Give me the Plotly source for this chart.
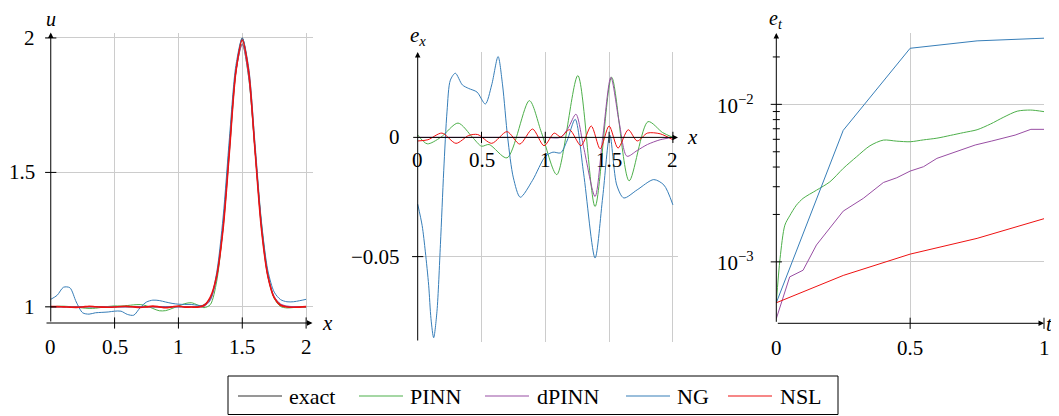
import plotly.graph_objects as go

# ---------------- data ----------------
# left panel: solution u(x) at final time
x_u = [0, 0.05, 0.1, 0.15, 0.2, 0.25, 0.3, 0.35, 0.4, 0.45, 0.5, 0.55, 0.6, 0.65, 0.7,
       0.75, 0.8, 0.85, 0.9, 0.95, 1.0, 1.05, 1.1, 1.15, 1.2, 1.25, 1.3, 1.35, 1.4, 1.45,
       1.5, 1.55, 1.6, 1.65, 1.7, 1.75, 1.8, 1.85, 1.9, 1.95, 2.0]
u_exact = [1.0, 1.0, 1.0, 1.0, 1.0, 1.0, 1.0, 1.0, 1.0, 1.0, 1.0, 1.0, 1.0, 1.0, 1.0,
           1.0, 1.0, 1.0, 1.0, 1.0, 1.0, 1.0, 1.0, 1.001, 1.008, 1.034, 1.114, 1.294, 1.581, 1.873,
           2.0, 1.873, 1.581, 1.294, 1.114, 1.034, 1.008, 1.001, 1.0, 1.0, 1.0]
u_pinn = [0.999, 1.002, 1.0025, 1.001, 0.999, 0.996, 0.9942, 0.995, 0.9982, 1.0015, 1.0035, 1.003,
          1.005, 1.0075, 1.0086, 1.004, 0.994, 0.9855, 0.986, 0.994, 1.003, 1.012, 1.0155, 1.007,
          0.997, 1.0085, 1.096, 1.304, 1.609, 1.878, 1.978, 1.853, 1.583, 1.312, 1.124, 1.032,
          1.0014, 0.996, 0.9975, 0.999, 1.0]
u_dpinn = [1.0, 1.0, 1.0, 1.0, 1.0, 1.0, 1.0, 1.0, 1.0, 1.0, 1.0, 1.0, 1.0, 1.0, 1.0,
           1.0, 1.0, 1.0, 1.0, 1.0, 1.0, 1.0, 1.0, 0.999, 1.002, 1.0245, 1.112, 1.309, 1.605, 1.873,
           1.977, 1.855, 1.581, 1.302, 1.1205, 1.0385, 1.011, 1.003, 1.001, 1.0005, 1.0]
u_ng = [1.028, 1.043, 1.073, 1.071, 1.018, 0.978, 0.973, 0.978, 0.9795, 0.981, 0.984, 0.984,
        0.972, 0.969, 0.997, 1.018, 1.025, 1.0235, 1.018, 1.013, 1.01, 1.009, 1.009, 1.006,
        1.005, 1.028, 1.129, 1.334, 1.631, 1.898, 1.999, 1.89, 1.606, 1.318, 1.136, 1.055,
        1.027, 1.019, 1.019, 1.023, 1.028]
u_nsl = [1.0015, 1.001, 1.0, 0.999, 0.9982, 0.9995, 1.0025, 1.0005, 0.9992, 0.9988, 0.9995,
         1.0015, 1.002, 1.0, 0.9976, 1.0, 1.0028, 1.0, 0.9965, 1.0, 1.0035, 0.999, 0.9995,
         0.999, 1.005, 1.036, 1.116, 1.292, 1.582, 1.875, 1.992, 1.875, 1.582, 1.291, 1.115,
         1.034, 1.006, 0.9995, 0.9985, 0.999, 1.001]

# middle panel: pointwise error e_x
ex_pinn_x = [0, 0.075, 0.18, 0.316, 0.43, 0.5, 0.56, 0.7, 0.875, 0.97, 1.09, 1.255, 1.39,
             1.52, 1.657, 1.805, 1.92, 2.0]
ex_pinn = [0.001, -0.0027, 0.0, 0.006, 0.0, -0.0037, -0.003, -0.0086, 0.0154, 0.002, -0.0156,
           0.0259, -0.029, 0.0252, -0.0182, 0.0066, 0.002, 0.0]
ex_dpinn_x = [0, 0.5, 1.0, 1.12, 1.18, 1.24, 1.3, 1.39, 1.45, 1.514, 1.58, 1.64, 1.72, 1.8,
              1.9, 2.0]
ex_dpinn = [0.0, 0.0, 0.0, 0.0, 0.004, 0.0097, -0.004, -0.0248, 0.0, 0.0252, 0.006, -0.0079,
            -0.0055, -0.003, -0.001, 0.0]
ex_ng_x = [0, 0.035, 0.06, 0.086, 0.104, 0.125, 0.151, 0.178, 0.204, 0.23, 0.256, 0.295, 0.35,
           0.4, 0.465, 0.53, 0.58, 0.63, 0.665, 0.705, 0.75, 0.804, 0.9, 1.0, 1.06, 1.12,
           1.17, 1.234, 1.3, 1.39, 1.45, 1.506, 1.56, 1.615, 1.72, 1.85, 1.93, 2.0]
ex_ng = [-0.028, -0.037, -0.048, -0.062, -0.076, -0.084, -0.073, -0.045, -0.014, 0.011, 0.024,
         0.0269, 0.022, 0.0205, 0.019, 0.014, 0.022, 0.0339, 0.022, 0.0, -0.017, -0.0251,
         -0.018, -0.008, -0.0062, -0.0065, -0.0015, 0.0076, -0.015, -0.0506, -0.025, 0.001,
         -0.02, -0.0254, -0.022, -0.0177, -0.02, -0.0283]
ex_nsl_x = [0, 0.08, 0.19, 0.3, 0.4, 0.47, 0.58, 0.7, 0.8, 0.9, 0.99, 1.07, 1.12, 1.19, 1.28,
            1.36, 1.43, 1.5, 1.57, 1.65, 1.72, 1.8, 1.9, 2.0]
ex_nsl = [-0.0015, -0.001, 0.0018, -0.0025, 0.0008, 0.0012, -0.0025, 0.0024, -0.0028, 0.0035,
          -0.0035, 0.0018, 0.0002, 0.0032, -0.0035, 0.0048, -0.0048, 0.0048, -0.0045, 0.0032,
          -0.0015, 0.0018, 0.0015, -0.001]

# right panel: error over time e_t
t_pinn = [0, 0.014, 0.032, 0.05, 0.075, 0.1, 0.15, 0.2, 0.25, 0.3, 0.35, 0.4, 0.45, 0.5,
          0.55, 0.6, 0.65, 0.7, 0.75, 0.8, 0.85, 0.9, 0.95, 1.0]
et_pinn = [5.5e-4, 1.05e-3, 1.71e-3, 1.96e-3, 2.29e-3, 2.53e-3, 2.85e-3, 3.22e-3, 3.92e-3,
           4.65e-3, 5.46e-3, 5.93e-3, 5.84e-3, 5.79e-3, 5.95e-3, 6.1e-3, 6.35e-3, 6.62e-3,
           6.9e-3, 7.5e-3, 8.3e-3, 9.05e-3, 9.2e-3, 8.99e-3]
t_dpinn = [0, 0.05, 0.1, 0.15, 0.25, 0.325, 0.4, 0.45, 0.5, 0.55, 0.6, 0.668, 0.743, 0.805,
           0.892, 0.951, 1.0]
et_dpinn = [4.36e-4, 8.03e-4, 8.85e-4, 1.28e-3, 2.10e-3, 2.53e-3, 3.19e-3, 3.42e-3, 3.77e-3,
            4.02e-3, 4.54e-3, 5.0e-3, 5.52e-3, 5.85e-3, 6.38e-3, 6.94e-3, 6.94e-3]
t_ng = [0, 0.25, 0.5, 0.75, 1.0]
et_ng = [5.5e-4, 6.84e-3, 2.27e-2, 2.53e-2, 2.63e-2]
t_nsl = [0, 0.25, 0.5, 0.75, 1.0]
et_nsl = [5.5e-4, 8.2e-4, 1.12e-3, 1.41e-3, 1.88e-3]

# tick labels
u_xticks = [0, 0.5, 1, 1.5, 2]
u_xtick_text = ["0", "0.5", "1", "1.5", "2"]
u_yticks = [1, 1.5, 2]
u_ytick_text = ["1", "1.5", "2"]
ex_yticks = [0, -0.05]
ex_ytick_text = ["0", "\u22120.05"]
et_xticks = [0, 0.5, 1]
et_xtick_text = ["0", "0.5", "1"]
et_yticks = [1e-3, 1e-2]
et_ytick_text = ["10<sup>\u22123</sup>", "10<sup>\u22122</sup>"]
et_yminor = [2e-3, 3e-3, 4e-3, 5e-3, 6e-3, 7e-3, 8e-3, 9e-3, 2e-2]

series_names = ["exact", "PINN", "dPINN", "NG", "NSL"]
colors = {"exact": "#303030", "PINN": "#4daf4a", "dPINN": "#984ea3",
          "NG": "#377eb8", "NSL": "#ee1111"}
FONT = "Liberation Serif, DejaVu Serif, Times New Roman, serif"
FS = 21

# ---------------- page geometry (the page body has an 8px margin) ----------------
OFF = 8
W, H = 1059 - OFF, 416 - OFF


def PX(p):
    return (p - OFF) / W


def PY(p):
    return 1 - (p - OFF) / H


XL = [-0.045, 2.05]; YL = [0.94, 2.02]
XM = [-0.047, 2.04]; YM = [-0.0858, 0.0358]
XR = [0, 1.0]; YR_LOG = [-3.39, -1.547]

fig = go.Figure()


def add_line(x, y, name, xa, ya, shape="spline", width=1.0):
    fig.add_trace(go.Scatter(x=x, y=y, mode="lines", name=name, showlegend=False,
                             hoverinfo="skip",
                             line=dict(color=colors[name], width=width, shape=shape,
                                       smoothing=0.8),
                             xaxis=xa, yaxis=ya))


# left panel
add_line(x_u, u_exact, "exact", "x", "y")
add_line(x_u, u_pinn, "PINN", "x", "y")
add_line(x_u, u_dpinn, "dPINN", "x", "y")
add_line(x_u, u_ng, "NG", "x", "y")
add_line(x_u, u_nsl, "NSL", "x", "y", width=1.6)
# middle panel
add_line(ex_pinn_x, ex_pinn, "PINN", "x2", "y2")
add_line(ex_dpinn_x, ex_dpinn, "dPINN", "x2", "y2")
add_line(ex_ng_x, ex_ng, "NG", "x2", "y2")
add_line(ex_nsl_x, ex_nsl, "NSL", "x2", "y2")
# right panel
add_line(t_pinn, et_pinn, "PINN", "x3", "y3", shape="spline")
add_line(t_dpinn, et_dpinn, "dPINN", "x3", "y3", shape="linear")
add_line(t_ng, et_ng, "NG", "x3", "y3", shape="linear")
add_line(t_nsl, et_nsl, "NSL", "x3", "y3", shape="linear")


def tick_marks(x, y, xa, ya, symbol, size):
    fig.add_trace(go.Scatter(x=x, y=y, mode="markers", showlegend=False, hoverinfo="skip",
                             cliponaxis=False, xaxis=xa, yaxis=ya,
                             marker=dict(symbol=symbol, size=size, color="black",
                                         line=dict(color="black", width=1))))


tick_marks([0] * len(u_yticks), u_yticks, "x", "y", "line-ew", 8)
tick_marks(u_xticks[1:], [YL[0]] * 4, "x", "y", "line-ns", 8)
tick_marks([0], [-0.05], "x2", "y2", "line-ew", 8)
tick_marks([0.5, 1, 1.5, 2], [0] * 4, "x2", "y2", "line-ns", 8)
tick_marks([0, 0], et_yticks, "x3", "y3", "line-ew", 8)
tick_marks([0] * len(et_yminor), et_yminor, "x3", "y3", "line-ew", 5)
tick_marks([0.5, 1], [10 ** YR_LOG[0]] * 2, "x3", "y3", "line-ns", 8)

ann = []
shapes = []


def arrow(xh, yh, xt, yt, xa, ya):
    ann.append(dict(x=xh, y=yh, ax=xt, ay=yt, xref=xa, yref=ya, axref=xa, ayref=ya,
                    text="", showarrow=True, arrowhead=2, arrowsize=1.1, arrowwidth=1,
                    arrowcolor="black"))


arrow(XL[1], YL[0], XL[0], YL[0], "x", "y")
arrow(0, YL[1], 0, YL[0], "x", "y")
arrow(XM[1], 0, XM[0], 0, "x2", "y2")
arrow(0, YM[1], 0, YM[0], "x2", "y2")
arrow(XR[1], YR_LOG[0], XR[0], YR_LOG[0], "x3", "y3")
arrow(0, YR_LOG[1], 0, YR_LOG[0], "x3", "y3")


def label(text, x, y, xref, yref, xanchor="center", yanchor="middle", xshift=0, yshift=0,
          size=FS):
    ann.append(dict(text=text, x=x, y=y, xref=xref, yref=yref, showarrow=False,
                    xanchor=xanchor, yanchor=yanchor, xshift=xshift, yshift=yshift,
                    font=dict(family=FONT, size=size, color="black")))


for v, t in zip(u_xticks, u_xtick_text):
    label(t, v, YL[0], "x", "y", yshift=-24)
for v, t in zip(u_yticks, u_ytick_text):
    label(t, 0, v, "x", "y", xanchor="right", xshift=-14)
for v, t in zip(u_xticks, u_xtick_text):
    label(t, v, 0, "x2", "y2", yshift=-23)
for v, t in zip(ex_yticks, ex_ytick_text):
    label(t, 0, v, "x2", "y2", xanchor="right", xshift=-16)
for v, t in zip(et_xticks, et_xtick_text):
    label(t, v, YR_LOG[0], "x3", "y3", yshift=-25)
for v, t in zip(et_yticks, et_ytick_text):
    label(t, 0, {1e-3: -3, 1e-2: -2}[v], "x3", "y3", xanchor="right", xshift=-20)

label("<i>u</i>", 0, PY(19), "x", "paper", size=20)
label("<i>x</i>", XL[1], YL[0], "x", "y", xanchor="left", xshift=7)
label("<i>e</i><sub><i>x</i></sub>", 0, PY(36), "x2", "paper")
label("<i>x</i>", XM[1], 0, "x2", "y2", xanchor="left", xshift=7)
label("<i>e</i><sub><i>t</i></sub>", 0, PY(19), "x3", "paper", size=20)
label("<i>t</i>", PX(1044), PY(324), "paper", "paper", xanchor="left")

# ---------------- legend (framed row of samples) ----------------
shapes.append(dict(type="rect", xref="paper", yref="paper", x0=PX(228), x1=PX(838),
                   y0=PY(414.5), y1=PY(376), line=dict(color="black", width=1),
                   fillcolor="white", layer="above"))
leg_line_x = [238, 359, 485, 626, 728]
leg_text_x = [287, 408, 535, 675, 778]
leg_y = PY(396)
for name, lx, tx in zip(series_names, leg_line_x, leg_text_x):
    shapes.append(dict(type="line", xref="paper", yref="paper", x0=PX(lx), x1=PX(lx + 44),
                       y0=leg_y, y1=leg_y, line=dict(color=colors[name], width=1.2),
                       layer="above"))
    label(name, PX(tx), leg_y, "paper", "paper", xanchor="left", size=22)

GRID = "#cccccc"


def axis(domain, rng, tickvals, anchor, typ="linear"):
    return dict(domain=domain, range=rng, type=typ, tickvals=tickvals, showticklabels=False,
                ticks="", showgrid=True, gridcolor=GRID, gridwidth=1, zeroline=False,
                showline=False, anchor=anchor, fixedrange=True)


fig.update_layout(
    width=W, height=H,
    margin=dict(l=0, r=0, t=0, b=0),
    paper_bgcolor="white", plot_bgcolor="white",
    font=dict(family=FONT, size=FS, color="black"),
    showlegend=False,
    xaxis=axis([PX(45), PX(312.5)], XL, [0.5, 1, 1.5, 2], "y"),
    yaxis=axis([PY(323), PY(32.6)], YL, [1, 1.5, 2], "x"),
    xaxis2=axis([PX(411.7), PX(678)], XM, [0.5, 1, 1.5, 2], "y2"),
    yaxis2=axis([PY(342), PY(52)], YM, [-0.05], "x2"),
    xaxis3=axis([PX(776.3), PX(1044)], XR, [0.5, 1], "y3"),
    yaxis3=axis([PY(323.3), PY(33)], YR_LOG, [1e-3, 1e-2], "x3", typ="log"),
    annotations=ann,
    shapes=shapes,
)

fig.write_html("out.html")
